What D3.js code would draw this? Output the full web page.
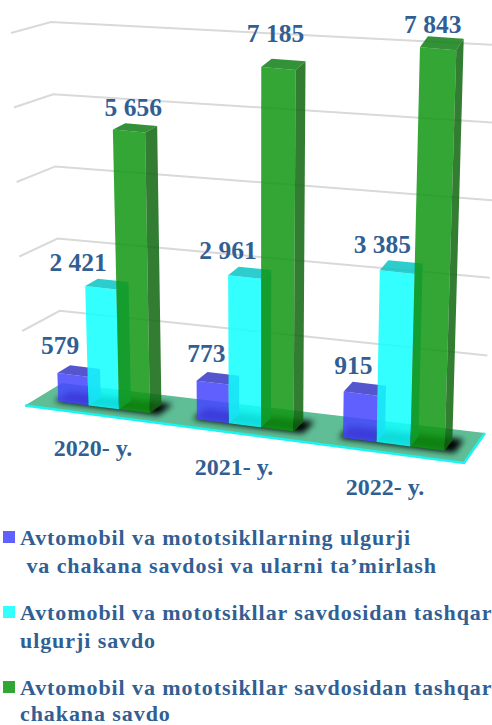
<!DOCTYPE html>
<html>
<head>
<meta charset="utf-8">
<script src="https://cdn.jsdelivr.net/npm/d3@7"></script>
<style>
html, body { margin: 0; padding: 0; background: #fff; }
svg { display: block; font-family: "Liberation Serif", serif; font-weight: bold; }
</style>
</head>
<body>
<div id="chart"></div>
<script>
// values
var years = ["2020- y.", "2021- y.", "2022- y."];
var series = ["wholesaleRepair", "wholesale", "retail"];
var wholesaleRepair = [579, 773, 915];
var wholesale = [2421, 2961, 3385];
var retail = [5656, 7185, 7843];
var valueLabels = [
	["579", "773", "915"],
	["2 421", "2 961", "3 385"],
	["5 656", "7 185", "7 843"]
];
var gridValues = [0, 1504, 3008, 4512, 6016, 7520];
var legendLines = [
	["Avtomobil va mototsikllarning ulgurji", " va chakana savdosi va ularni ta\u2019mirlash"],
	["Avtomobil va mototsikllar savdosidan tashqar", "ulgurji savdo"],
	["Avtomobil va mototsikllar savdosidan tashqar", "chakana savdo"]
];

var values = [wholesaleRepair, wholesale, retail];
var width = 492, height = 725;
var textColor = "#315f94";

// corners of the 3d box on screen: [front/back][left/right] at value 0 and at the top
var box = {
	floor: { fl: [25, 405.5], fr: [464, 463], bl: [62, 383], br: [485, 433] },
	roof:  { fl: [11, 33],    fr: [477, 79.4],  bl: [51, 22],  br: [497, 45] }
};
var perspective = 0.077; // clusters get wider to the right

var faces = [
	{ front: "rgb(70,70,255)",   side: "rgb(50,50,190)",  top: "rgb(57,57,197)" },
	{ front: "rgb(17,255,255)",  side: "rgb(10,190,190)", top: "rgb(10,197,197)" },
	{ front: "rgb(17,151,20)",   side: "rgb(17,104,17)",  top: "rgb(17,127,22)" }
];
var barOpacity = 0.86;
var depthFront = 0.3, depthBack = 0.65;

// nudges of the value labels from the top of their bar, [series][year]
var labelDx = [[-25, -17, -16], [-35, -27, -23], [-8, -13, -13]];
var labelDy = [[-13, -12, -9.5], [-9.5, -9, -9], [-9, -18, -4.5]];
var yearLabelPos = [[93, 456], [234, 475], [385, 495]];

var u = d3.scaleBand().domain(years).range([0, 1]).paddingInner(0.333).paddingOuter(0.165);
var uSeries = d3.scaleBand().domain(series).range([0, u.bandwidth()]);
var z = d3.scaleLinear().domain([0, 7520]).range([0, 1]);

function mix(a, b, t) { return a + (b - a) * t; }

// u across, d into the picture, h up, all 0..1
function project(uu, d, h) {
	var w = uu - perspective * uu * (1 - uu);
	var out = [0, 1].map(function(i) {
		var f = mix(mix(box.floor.fl[i], box.floor.fr[i], w), mix(box.floor.bl[i], box.floor.br[i], w), d);
		var r = mix(mix(box.roof.fl[i], box.roof.fr[i], w), mix(box.roof.bl[i], box.roof.br[i], w), d);
		return mix(f, r, h);
	});
	return out;
}

function poly(pts) { return d3.line()(pts) + "Z"; }

var svg = d3.select("#chart").append("svg")
	.attr("width", width)
	.attr("height", height);

var defs = svg.append("defs");
defs.append("filter").attr("id", "blur")
	.attr("x", "-20%").attr("y", "-50%").attr("width", "140%").attr("height", "200%")
	.append("feGaussianBlur").attr("stdDeviation", 3);

// gridlines on the side and back walls
var grid = svg.append("g").attr("fill", "none").attr("stroke", "#d9d9d9").attr("stroke-width", 2);
gridValues.slice(1).forEach(function(v) {
	grid.append("path").attr("d", d3.line()([project(0, 0, z(v)), project(0, 1, z(v)), project(1, 1, z(v))]));
});

// floor plate
svg.append("path")
	.attr("d", poly([project(0, 0, 0), project(1, 0, 0), project(1, 1, 0), project(0, 1, 0)]))
	.attr("fill", "rgb(95,190,150)");
svg.append("path")
	.attr("d", d3.line()([project(0, 0, 0), project(1, 0, 0), project(1, 1, 0)]))
	.attr("fill", "none")
	.attr("stroke", "#19f5f0")
	.attr("stroke-width", 2.5);

// shadows under the clusters
svg.append("g").selectAll("path")
	.data(years)
	.enter().append("path")
		.attr("d", function(y) {
			var a = u(y) - 0.008, b = u(y) + u.bandwidth() + 0.022;
			return poly([project(a, depthFront - 0.02, 0), project(b, depthFront - 0.02, 0), project(b, depthBack + 0.06, 0), project(a, depthBack + 0.06, 0)]);
		})
		.attr("fill", "#000")
		.attr("filter", "url(#blur)");

// bars, one translucent box each, later series over earlier ones
years.forEach(function(y, yi) {
	series.forEach(function(s, si) {
		var a = u(y) + uSeries(s), b = a + uSeries.bandwidth(), h = z(values[si][yi]);
		var g = svg.append("g").attr("fill-opacity", barOpacity);
		g.append("path")
			.attr("d", poly([project(a, depthFront, 0), project(b, depthFront, 0), project(b, depthFront, h), project(a, depthFront, h)]))
			.attr("fill", faces[si].front);
		g.append("path")
			.attr("d", poly([project(b, depthFront, 0), project(b, depthBack, 0), project(b, depthBack, h), project(b, depthFront, h)]))
			.attr("fill", faces[si].side);
		g.append("path")
			.attr("d", poly([project(a, depthFront, h), project(b, depthFront, h), project(b, depthBack, h), project(a, depthBack, h)]))
			.attr("fill", faces[si].top);
	});
});

// value labels
years.forEach(function(y, yi) {
	series.forEach(function(s, si) {
		var mid = u(y) + uSeries(s) + uSeries.bandwidth() / 2;
		var p = project(mid, depthBack, z(values[si][yi]));
		svg.append("text")
			.attr("x", p[0] + labelDx[si][yi])
			.attr("y", p[1] + labelDy[si][yi])
			.attr("text-anchor", "middle")
			.attr("font-size", 25.5)
			.attr("fill", textColor)
			.text(valueLabels[si][yi]);
	});
});

// year labels
years.forEach(function(y, yi) {
	svg.append("text")
		.attr("x", yearLabelPos[yi][0])
		.attr("y", yearLabelPos[yi][1])
		.attr("text-anchor", "middle")
		.attr("font-size", 24)
		.attr("fill", textColor)
		.text(y);
});

// legend
var legendY = [545, 620, 695];
var legendLineHeight = [28, 28, 26];
var swatchColors = ["#6060ff", "#33ffff", "#32a635"];
legendLines.forEach(function(lines, i) {
	svg.append("rect")
		.attr("x", 3)
		.attr("y", legendY[i] - 14)
		.attr("width", 12)
		.attr("height", 12)
		.attr("fill", swatchColors[i]);
	lines.forEach(function(line, j) {
		svg.append("text")
			.attr("x", 20)
			.attr("y", legendY[i] + j * legendLineHeight[i])
			.attr("font-size", 22)
			.attr("letter-spacing", 0.92)
			.attr("fill", textColor)
			.style("white-space", "pre")
			.text(line);
	});
});
</script>
</body>
</html>
